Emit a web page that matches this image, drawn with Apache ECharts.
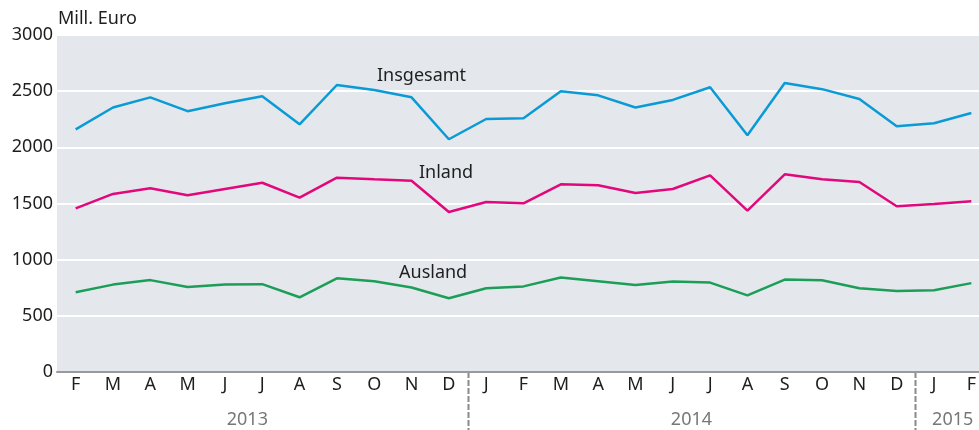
<!DOCTYPE html>
<html>
<head>
<meta charset="utf-8">
<script src="https://cdn.jsdelivr.net/npm/echarts@6/dist/echarts.min.js"></script>
<style>
    html, body { margin: 0; padding: 0; background: #fff; }
    #chart { width: 979px; height: 430px; }
</style>
</head>
<body>
<div id="chart"></div>
<script>
const months = ['F', 'M', 'A', 'M', 'J', 'J', 'A', 'S', 'O', 'N', 'D', 'J', 'F', 'M', 'A', 'M', 'J', 'J', 'A', 'S', 'O', 'N', 'D', 'J', 'F'];
const insgesamt = [2160, 2355, 2445, 2322, 2392, 2455, 2205, 2555, 2510, 2445, 2072, 2252, 2258, 2500, 2463, 2355, 2422, 2535, 2108, 2572, 2518, 2430, 2187, 2215, 2305];
const inland = [1457, 1585, 1635, 1573, 1630, 1685, 1552, 1730, 1715, 1703, 1424, 1513, 1502, 1671, 1662, 1594, 1629, 1751, 1436, 1760, 1715, 1691, 1475, 1496, 1520];
const ausland = [710, 778, 818, 756, 778, 782, 665, 834, 808, 752, 656, 746, 762, 841, 808, 774, 806, 796, 682, 823, 816, 745, 720, 728, 791];
const years = ['2013', '2014', '2015'];
// year label centre (category index) and divider positions (between indices)
const yearCenters = [4.6, 16.5, 23.5];
const yearBreaks = [10.5, 22.5];

const FONT = '"Noto Sans", sans-serif';
const chart = echarts.init(document.getElementById('chart'));

function lineSeries(name, data, color) {
    return {
        name: name,
        type: 'line',
        data: data,
        symbol: 'none',
        lineStyle: { width: 2.5, color: color },
        itemStyle: { color: color },
        animation: false
    };
}

chart.setOption({
    animation: false,
    grid: { left: 57, top: 35, bottom: 58, width: 933, outerBoundsMode: 'none' },
    xAxis: {
        type: 'category',
        data: months,
        boundaryGap: true,
        axisLine: { lineStyle: { color: '#9a9a9a', width: 2 } },
        axisTick: { show: false },
        axisLabel: { color: '#1e1e1e', fontSize: 18, fontFamily: FONT, margin: 4, interval: 0 },
        splitArea: { show: false }
    },
    yAxis: {
        type: 'value',
        min: 0,
        max: 3000,
        interval: 500,
        axisLine: { show: false },
        axisTick: { show: false },
        axisLabel: {
            color: '#1e1e1e',
            fontSize: 18,
            fontFamily: FONT,
            margin: 4,
            formatter: (v) => String(v)
        },
        splitLine: { lineStyle: { color: '#ffffff', width: 2 } },
        splitArea: { show: true, areaStyle: { color: ['#e4e8ec'] } }
    },
    series: [
        lineSeries('Insgesamt', insgesamt, '#0a9ad5'),
        lineSeries('Inland', inland, '#e2087c'),
        lineSeries('Ausland', ausland, '#1c9e58')
    ]
});

function xAt(idx) {
    const a = chart.convertToPixel({ xAxisIndex: 0 }, Math.floor(idx));
    const b = chart.convertToPixel({ xAxisIndex: 0 }, Math.floor(idx) + 1);
    return a + (b - a) * (idx - Math.floor(idx));
}

const graphics = [
    { type: 'text', left: 58, top: 10, style: { text: 'Mill. Euro', fill: '#1e1e1e', font: '18px ' + FONT } },
    { type: 'text', left: 377, top: 67, style: { text: 'Insgesamt', fill: '#1e1e1e', font: '18px ' + FONT } },
    { type: 'text', left: 419, top: 164, style: { text: 'Inland', fill: '#1e1e1e', font: '18px ' + FONT } },
    { type: 'text', left: 399, top: 264, style: { text: 'Ausland', fill: '#1e1e1e', font: '18px ' + FONT } }
];

yearBreaks.forEach((idx) => {
    const x = Math.round(xAt(idx)) + 0.5;
    graphics.push({
        type: 'line',
        shape: { x1: x, y1: 372, x2: x, y2: 430 },
        style: { stroke: '#8a8a8a', lineWidth: 2, lineDash: [6, 2] }
    });
});

yearCenters.forEach((idx, i) => {
    graphics.push({
        type: 'text',
        x: xAt(idx),
        y: 420,
        style: { text: years[i], fill: '#777', font: '18px ' + FONT, align: 'center', verticalAlign: 'middle' }
    });
});

chart.setOption({ graphic: graphics });
</script>
</body>
</html>
